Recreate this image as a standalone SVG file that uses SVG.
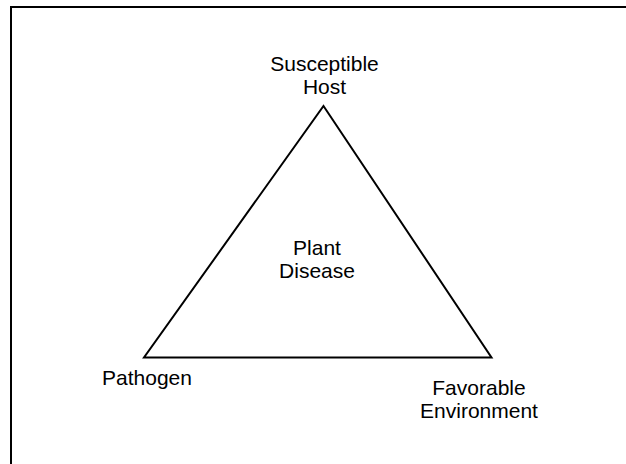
<svg xmlns="http://www.w3.org/2000/svg" width="626" height="464" viewBox="0 0 626 464">
<style>
text{font-family:"Liberation Sans",Arial,sans-serif;font-size:21px;fill:#000;text-anchor:middle}
.ln{fill:none;stroke:#000;stroke-width:2}
</style>
<rect width="626" height="464" fill="#fff"/>
<rect class="ln" x="11" y="7" width="640" height="480"/>
<g id="connectors">
<path class="ln" d="M323.5,106 L491.5,357.5 L144,357.5 Z" stroke-linejoin="miter"/>
</g>
<g id="host"><text x="324.5" y="71">Susceptible</text><text x="324.5" y="94">Host</text></g>
<g id="disease"><text x="317" y="255">Plant</text><text x="317" y="278">Disease</text></g>
<g id="pathogen"><text x="147" y="385">Pathogen</text></g>
<g id="environment"><text x="479" y="395">Favorable</text><text x="479" y="418">Environment</text></g>
</svg>
